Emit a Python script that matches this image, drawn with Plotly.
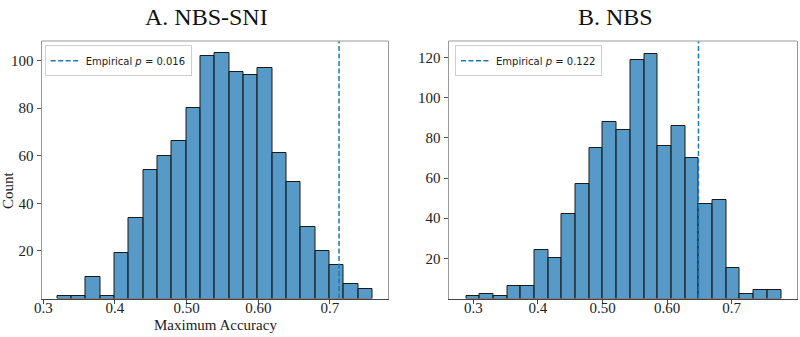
import plotly.graph_objects as go

# ---- data ----
left_start = 0.3195
left_width = 0.02
left_counts = [1, 1, 9, 1, 19, 34, 54, 60, 66, 80, 102, 103, 95, 94, 97, 61, 49, 30, 20, 14, 6, 4]
left_obs = 0.7126
left_p = "0.016"

right_start = 0.2887
right_width = 0.0212
right_counts = [1, 2, 1, 6, 6, 24, 20, 42, 57, 75, 88, 84, 119, 122, 76, 86, 70, 47, 49, 15, 2, 4, 4]
right_obs = 0.6485
right_p = "0.122"

x_tickvals = [0.3, 0.4, 0.5, 0.6, 0.7]
x_ticktext = ["0.3", "0.4", "0.50", "0.60", "0.7"]
left_yticks = [20, 40, 60, 80, 100]
right_yticks = [20, 40, 60, 80, 100, 120]

titles = ["A. NBS-SNI", "B. NBS"]

BAR_FILL = "rgba(31,119,180,0.75)"
LINE_BLUE = "#1f77b4"
SERIF = "Liberation Serif"
SANS = "DejaVu Sans"

W, H = 800, 337

def centers(start, width, n):
    return [start + width * (i + 0.5) for i in range(n)]

fig = go.Figure()

# left histogram
fig.add_trace(go.Bar(
    x=centers(left_start, left_width, len(left_counts)), y=left_counts,
    width=left_width, marker=dict(color=BAR_FILL, line=dict(color="#1a1a1a", width=1)),
    xaxis="x", yaxis="y", showlegend=False, hoverinfo="skip"))
left_ymax = 108.2
fig.add_trace(go.Scatter(
    x=[left_obs, left_obs], y=[0, left_ymax], mode="lines",
    line=dict(color=LINE_BLUE, width=1.5, dash="5px,2.5px"),
    name="Empirical <i>p</i> = " + left_p, xaxis="x", yaxis="y",
    legend="legend", showlegend=True))

# right histogram
fig.add_trace(go.Bar(
    x=centers(right_start, right_width, len(right_counts)), y=right_counts,
    width=right_width, marker=dict(color=BAR_FILL, line=dict(color="#1a1a1a", width=1)),
    xaxis="x2", yaxis="y2", showlegend=False, hoverinfo="skip"))
right_ymax = 128.3
fig.add_trace(go.Scatter(
    x=[right_obs, right_obs], y=[0, right_ymax], mode="lines",
    line=dict(color=LINE_BLUE, width=1.5, dash="5px,2.5px"),
    name="Empirical <i>p</i> = " + right_p, xaxis="x2", yaxis="y2",
    legend="legend2", showlegend=True))

ydom = [(337 - 298.5) / H, (337 - 41) / H]
ldom = [41.5 / W, 388.4 / W]
rdom = [448.5 / W, 796.8 / W]

common_x = dict(tickvals=x_tickvals, ticktext=x_ticktext, ticks="outside", ticklen=4,
                tickwidth=1, tickcolor="#444", showline=True, linecolor="#444", linewidth=1,
                showgrid=False, zeroline=False, ticklabelstandoff=-9, automargin=False,
                tickfont=dict(family=SERIF, size=15, color="#222"))
common_y = dict(ticks="outside", ticklen=4, tickwidth=1, tickcolor="#555",
                showline=True, linecolor="#999", linewidth=1, mirror=True,
                showgrid=False, zeroline=False, automargin=False,
                tickfont=dict(family=SERIF, size=15, color="#222"))

fig.update_layout(
    width=W, height=H, margin=dict(l=0, r=0, t=0, b=0, autoexpand=False),
    paper_bgcolor="white", plot_bgcolor="white", bargap=0, barmode="overlay",
    xaxis=dict(domain=ldom, range=[0.2975, 0.7815], anchor="y", **common_x),
    yaxis=dict(domain=ydom, range=[0, left_ymax], anchor="x", tickvals=left_yticks, **common_y),
    xaxis2=dict(domain=rdom, range=[0.2616, 0.8007], anchor="y2", **common_x),
    yaxis2=dict(domain=ydom, range=[0, right_ymax], anchor="x2", tickvals=right_yticks, **common_y),
    legend=dict(x=44.7 / W, y=(337 - 45.3) / H, xanchor="left", yanchor="top",
                bgcolor="white", bordercolor="#d0d0d0", borderwidth=1,
                font=dict(family=SANS, size=10, color="#222"), itemwidth=30),
    legend2=dict(x=455 / W, y=(337 - 45.3) / H, xanchor="left", yanchor="top",
                 bgcolor="white", bordercolor="#d0d0d0", borderwidth=1,
                 font=dict(family=SANS, size=10, color="#222"), itemwidth=30),
    shapes=[
        dict(type="line", xref="x domain", yref="y domain", x0=0, x1=1, y0=1, y1=1,
             line=dict(color="#999", width=1)),
        dict(type="line", xref="x2 domain", yref="y2 domain", x0=0, x1=1, y0=1, y1=1,
             line=dict(color="#999", width=1)),
    ],
    annotations=[
        dict(text=titles[0], x=207 / W, y=(337 - 17) / H, xref="paper", yref="paper",
             xanchor="center", yanchor="middle",
             showarrow=False, font=dict(family=SERIF, size=24, color="#111")),
        dict(text=titles[1], x=615 / W, y=(337 - 17) / H, xref="paper", yref="paper",
             xanchor="center", yanchor="middle",
             showarrow=False, font=dict(family=SERIF, size=24, color="#111")),
        dict(text="Count", x=8 / W, y=(337 - 190) / H, xref="paper", yref="paper",
             xanchor="center", yanchor="middle",
             showarrow=False, textangle=-90, font=dict(family=SERIF, size=15, color="#222")),
        dict(text="Maximum Accuracy", x=215 / W, y=(337 - 325) / H, xref="paper", yref="paper",
             xanchor="center", yanchor="middle",
             showarrow=False, font=dict(family=SERIF, size=15, color="#222")),
    ],
)

fig.write_html("out.html")
